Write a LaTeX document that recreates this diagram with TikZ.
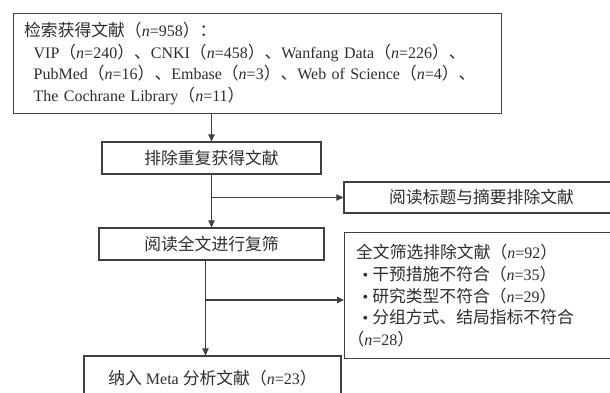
\documentclass[tikz,border=0pt]{standalone}
\usepackage{fontspec}
\setmainfont{Liberation Serif}
\newfontfamily\cjk[Scale=1.05]{Noto Sans CJK SC}
\newcommand\zh[1]{{\cjk #1}}
\usetikzlibrary{arrows.meta}
\definecolor{linecol}{RGB}{64,64,64}
\definecolor{txtcol}{RGB}{45,45,45}
\tikzset{
  box/.style={draw=linecol, line width=1.3pt, rectangle, inner sep=0pt, text=txtcol,
    font=\fontsize{16}{21.7}\selectfont},
  arr/.style={draw=linecol, line width=1.2pt, -{Triangle[length=7pt,width=6.5pt]}},
}
\begin{document}
\begin{tikzpicture}[x=1pt,y=-1pt]
\clip (0,0) rectangle (610,393);
\node[box, anchor=north west, minimum width=488pt, minimum height=100pt, text width=467pt,
      inner xsep=10.5pt, align=left] (src) at (13,13) {%
\zh{检索获得文献（}\textit{n}=958\zh{）：}\\
\hspace*{9.5pt}VIP\zh{（}\textit{n}=240\zh{）、}CNKI\zh{（}\textit{n}=458\zh{）、}Wanfang Data\zh{（}\textit{n}=226\zh{）、}\\
\hspace*{9.5pt}PubMed\zh{（}\textit{n}=16\zh{）、}Embase\zh{（}\textit{n}=3\zh{）、}Web of Science\zh{（}\textit{n}=4\zh{）、}\\
\hspace*{9.5pt}The Cochrane Library\zh{（}\textit{n}=11\zh{）}};
\node[box, minimum width=219pt, minimum height=32pt] (dedup) at (211.5,158) {\zh{排除重复获得文献}};
\node[box, minimum width=275pt, minimum height=31pt] (excl1) at (481.5,197.5) {\zh{阅读标题与摘要排除文献}};
\node[box, minimum width=225pt, minimum height=32pt] (full) at (211.5,244) {\zh{阅读全文进行复筛}};
\node[box, anchor=north west, minimum width=276pt, minimum height=126pt, text width=270pt,
      inner xsep=3pt, align=left] (excl2) at (344,232) {%
\hspace*{8.5pt}\zh{全文筛选排除文献（}\textit{n}=92\zh{）}\\
\hspace*{15pt}\textbullet\hspace{4pt}\zh{干预措施不符合（}\textit{n}=35\zh{）}\\
\hspace*{15pt}\textbullet\hspace{4pt}\zh{研究类型不符合（}\textit{n}=29\zh{）}\\
\hspace*{15pt}\textbullet\hspace{4pt}\zh{分组方式、结局指标不符合}\\
\zh{（}\textit{n}=28\zh{）}};
\node[box, minimum width=257pt, minimum height=44pt] (incl) at (212.5,378) {\zh{纳入} Meta \zh{分析文献（}\textit{n}=23\zh{）}};
\coordinate (c3) at (205.5,300);
\draw[arr] (src.south -| dedup.north) -- (dedup.north);
\draw[arr] (dedup.south) -- (full.north);
\draw[arr] (dedup.south |- excl1.west) -- (excl1.west);
\draw[arr] (full.south -| c3) -- (incl.north -| c3);
\draw[arr] (c3) -- (c3 -| excl2.west);
\end{tikzpicture}
\end{document}
